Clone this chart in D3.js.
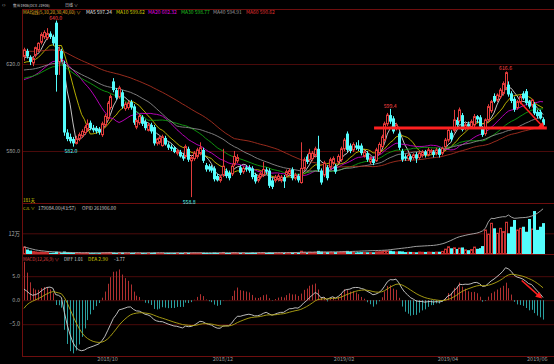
<!DOCTYPE html>
<html>
<head>
<meta charset="utf-8">
<script src="https://cdn.jsdelivr.net/npm/d3@7"></script>
<style>
  html, body { margin: 0; padding: 0; background: #000; }
  svg { display: block; font-family: "Noto Sans CJK SC", "Noto Sans", sans-serif; }
</style>
</head>
<body>
<svg id="chart" width="554" height="364"></svg>
<script>
// daily bars, [open, high, low, close]
const ohlc = [
  [623.5,627.5,621.5,626.5],[626,627,622.5,623.5],[623,624,619.5,621],[620.5,623.5,619,622.5],[624,628,623,627.5],
  [626.5,630,625.5,629.5],[630,634.5,629,633.5],[632.5,635.5,631.5,634.5],[632,636.5,631,634],[634,635,631.5,632.5],
  [632.5,633.5,628.5,629.5],[639,640,607.3,615],[621,628,615,626.5],[626,627,621,622.5],[620,621.5,587,588.5],
  [588.5,590,584.5,585.5],[586.5,588,583.5,584.5],[585.5,586.5,582,583.5],[583.5,587,583,585.5],[585.5,588.5,584.5,587.5],
  [587,590,586,589],[588.5,592,587.5,591],[590,594.5,589,592.5],[593,594,589.5,590.5],[590.5,592,588.5,589.5],
  [590.5,591.5,588,589],[590,591,587.5,588.5],[587.5,593.5,586.5,592.5],[592,597,591,596],[595,603,594,602],
  [600,606,599,605],[612,613.5,607,608],[608,609,603.5,604.5],[605,610,604,609],[607,608,599.5,600.5],
  [599.5,602.5,598.5,601.5],[600,603,599,602],[602.5,603.5,599,600],[600.5,601.5,592,593],[591,595,590,594],
  [593,597,592,596],[595.5,596.5,591.5,592.5],[593.5,594.5,589.5,590.5],[589.5,593,589,592],[592,593,588,589],
  [591,592,582.5,583.5],[583.5,586,582.5,585.5],[584,587,583,586],[582.5,587.5,582,586.5],[586,587,582.5,583],
  [583,584,580.5,581.5],[582,583,580,581],[581.5,582,579,579.5],[579,581,578,580],[579.5,580.5,577,577.5],
  [578,579,575.5,576.5],[577.5,583,576.5,582],[581,582,575,576],[575.5,578,558.8,577],[576.5,580,575.5,579],
  [577.5,581.5,576.5,580.5],[579,584,578,581.5],[580.5,581.5,574.5,575.5],[573.5,574.5,570.5,571.5],[573,574,570.5,571.5],
  [572.5,573.5,570,571],[572,573,566,567],[568.5,569.5,566,566.5],[566.5,569,565.5,568],[569,581,568,573],
  [571,572,567.5,568.5],[570,571,566.5,567.5],[569.5,574,568.5,573],[574,580,573,577.5],[575.5,578.5,574.5,577],
  [572.5,573.5,569,570],[570.5,573,569.5,572],[572.5,573.5,570.5,571.5],[572.5,573.5,570,571],[572,573,567,568],
  [569,570,565,566],[566.5,569,565.5,568],[568,570.5,567,569.5],[569,575,568,571.5],[571.5,572.5,569.5,570.5],
  [571,572,563,564],[566.5,567.5,562.5,563.5],[566.5,569,565.5,568],[567,569.5,566,568.5],[566.5,569,565.5,568],
  [568,569,563,566],[569,571.5,568,570.5],[569.5,572,568.5,571],[571.5,572.5,566.5,567.5],[567.5,570,566.5,569],
  [568.5,569.5,565.5,566.5],[565.5,584,565,572],[572,577,571,576],[577.5,578.5,574,575],[576,581,575,579],
  [576.5,580,575.5,579],[578,582,577,581],[581,587,570.5,571.5],[571,572,564.5,565.5],[569,575.5,568,574.5],
  [572.5,573.5,566.5,567.5],[572.5,577,571.5,576],[574.5,577.5,573.5,576.5],[573,574,569.5,570.5],[575,578.5,574,577.5],
  [576,582,575,581],[581,586,580,585],[588,589,579.5,580.5],[582.5,583.5,579,580],[580.5,584,579.5,583],
  [582.5,584,580.5,581.5],[582.5,585,580,581],[582.5,583.5,578,579],[577.5,580.5,577,579.5],[579,580,575,576],
  [575,577.5,574,576.5],[576.5,577.5,573.5,574.5],[575.5,581.5,575,580.5],[579,584,578.5,583],[582,587.5,581.5,586.5],
  [585,593.5,584.5,592.5],[592.5,597.5,591.5,596.5],[596.5,599.4,592.5,593.5],[595,596,588,589],[590.5,593,589.5,592],
  [588,589,580.5,581.5],[580,581,575,576],[577.5,578.5,575.5,576.5],[576.5,579,575.5,578],[577.5,578.5,575,576],
  [577,579,576,578.2],[578.5,579.5,574.5,576.5],[577,580,576,579],[578,580.5,577,579.5],[579.7,580.5,577,578.2],
  [578.2,581.5,577.5,580.5],[579.5,581,578.5,580.2],[579.7,580.5,577,578.2],[579,581.5,578,580.5],[580.8,581.5,577,578.2],
  [579,582,578,581.2],[582,586,581,585],[585,590.5,584,589.5],[588.4,589.5,584.5,585.4],[589.5,598.9,588.5,594.3],
  [594.3,595.5,591,592],[594,600,593,598.9],[596.5,597.5,589,589.7],[590.4,593,589.5,592],[592.4,593.5,590.5,591.2],
  [591.2,594.5,590.5,593.5],[592,597,591,595.8],[596,596.5,593,594.5],[595.5,596.5,590.5,591.2],[590.4,591.5,586.5,587.4],
  [588,595,587,594.3],[594.3,601.5,593.5,600.4],[598.5,603.5,597.5,602.7],[605.3,606.5,602,602.7],[603.4,606.5,602.5,605.7],
  [605,609,604,608],[606.5,612,605.5,611],[609,616.6,608,616],[610.5,612,605,606],[606.5,607.5,602,603],
  [604,605,598,599],[600,603.5,599,602.7],[602.5,606,601.5,605],[606.5,607.5,603.5,604.2],[607.5,608.5,601,602],
  [602.7,603.5,599.5,600.4],[601.1,604,600,603.4],[601.5,602.5,596.5,597.3],[598,599,595,596],[598,599,594.5,595],
  [594.6,595.5,591.5,592]
];

// volume, 万手
const volume = [
  4.0,2.6,2.0,1.4,1.2,1.0,1.1,0.9,0.8,0.7, 0.8,1.3,0.9,0.7,1.4,1.0,0.8,0.7,0.6,0.6,
  0.5,0.6,0.7,0.5,0.5,0.4,0.5,0.6,0.7,0.8, 0.9,0.8,0.6,0.7,0.8,0.5,0.5,0.6,0.7,0.5,
  0.5,0.6,0.5,0.5,0.6,0.8,0.5,0.5,0.6,0.5, 0.6,0.5,0.6,0.5,0.6,0.6,0.7,0.7,0.5,0.6,
  0.5,0.6,0.7,0.6,0.5,0.5,0.8,0.6,0.5,0.9, 0.6,0.6,0.7,0.8,0.6,0.7,0.6,0.6,0.6,0.8,
  0.7,0.6,0.6,0.8,0.6,0.9,0.8,0.6,0.6,0.6, 0.7,0.6,0.7,0.8,0.6,0.7,1.6,1.0,0.9,1.0,
  0.9,1.0,1.8,1.4,1.0,1.1,1.0,0.9,1.1,0.9, 1.2,1.4,1.8,1.2,1.0,0.9,1.0,1.1,0.9,1.0,
  0.9,1.0,1.2,1.3,1.4,1.8,1.7,1.9,1.6,1.2, 1.6,1.5,1.1,1.0,1.2,0.9,1.0,1.1,1.0,1.2,
  1.1,1.0,1.2,1.1,1.3,1.5,2.8,4.2,3.3,3.6, 2.9,3.4,3.8,2.4,2.2,2.6,4.0,3.0,3.4,4.6,
  13.9,11.5,17.8,14.9,12.0,14.9,13.0,18.4,12.0,15.8, 19.7,13.9,14.9,15.8,12.9,20.3,14.5,24.9,14.0,15.8,
  17.9
];

// open interest, 万手
const openInterest = [
  4.2,3.7,3.2,2.8,2.4,2.1,1.9,1.7,1.5,1.4, 1.3,1.2,1.1,1.0,1.0,0.9,0.9,0.8,0.8,0.8,
  0.7,0.7,0.7,0.7,0.7,0.7,0.7,0.7,0.7,0.7, 0.7,0.7,0.7,0.7,0.7,0.7,0.7,0.7,0.7,0.7,
  0.7,0.7,0.7,0.7,0.7,0.7,0.7,0.7,0.7,0.7, 0.7,0.7,0.7,0.7,0.7,0.7,0.7,0.7,0.7,0.7,
  0.7,0.7,0.7,0.7,0.7,0.7,0.7,0.7,0.7,0.7, 0.7,0.7,0.7,0.7,0.7,0.7,0.7,0.7,0.7,0.75,
  0.75,0.75,0.75,0.75,0.75,0.75,0.75,0.75,0.75,0.75, 0.8,0.8,0.8,0.85,0.85,0.9,0.95,1.0,1.0,1.05,
  1.05,1.1,1.1,1.15,1.15,1.2,1.2,1.25,1.25,1.3, 1.3,1.3,1.35,1.4,1.5,1.55,1.6,1.7,1.75,1.8,
  1.9,1.95,2.0,2.05,2.1,2.2,2.3,2.5,2.7,2.9, 3.1,3.3,3.5,3.7,3.9,4.2,4.4,4.5,4.6,4.7,
  4.8,4.9,5.0,5.2,5.5,5.9,6.4,7.1,7.8,8.6, 9.4,10.0,10.4,10.8,11.2,11.5,11.8,12.1,12.6,13.4,
  14.9,18.5,20.7,20.5,21.0,21.3,21.6,21.6,22.6,21.4, 20.7,20.8,21.0,21.1,21.2,21.5,22.0,22.6,23.6,24.8,
  26.19
];

// moving averages: periods, level before the first bar, and the values printed in the legend
const maPeriods = [5, 10, 20, 30, 40, 60];
const maStart = [622, 620, 612, 613, 617, 626];
const maLegend = [597.24, 599.62, 602.32, 598.77, 594.91, 590.62];

// MACD(12,26,9) state at the first bar and the legend values
const macdStart = { diff: 2.3, dea: -1.7 };
const macdLegend = { diff: 1.01, dea: 2.90, macd: -3.77 };

// volume panel legend values
const volLegend = { vol: '179084.00(43:57)', oi: '261906.00' };

// marked extremes (bar index)
const peakIdx = [11, 127, 167];
const troughIdx = [17, 58];

// hand-drawn annotations: [bar index, value]
const supportLine = [[121.4, 590.6], [181.3, 590.6]];
const priceArrow = [[172, 602.5], [180, 591]];
const macdArrow = [[172.6, 4.1], [179, 0.7]];

const xTickIdx = [29, 69, 111, 147, 178];
const xTickLabels = ['2018/10', '2018/12', '2019/02', '2019/04', '2019/06'];

// ---------------------------------------------------------------
const W = 554, H = 364, left = 22;
const UP = '#e23c3c', DOWN = '#54fcfc';
const GRID = '#4a0a0a', BORDER = '#6e0e0e';
const MA_COLORS = ['#d8d8d8', '#c8c000', '#c800c8', '#10a010', '#8a8a8a', '#a83020'];
const MA_TEXT = ['#e0e0e0', '#d8d000', '#e000e0', '#20c020', '#9a9a9a', '#e03030'];

const svg = d3.select('#chart');
svg.append('rect').attr('width', W).attr('height', H).attr('fill', '#000');

const closes = ohlc.map(d => d[3]);
const n = ohlc.length;

const x = d3.scaleBand().domain(d3.range(n)).range([22.5, 544.5]);
const step = x.step();
const cx = i => x(0) + step * (i + 0.5);      // works for fractional indexes too
const px = i => Math.round(x(i) + x.bandwidth() / 2);

const yPrice = d3.scaleLinear().domain([580, 620]).range([151, 64]);
const yVol = d3.scaleLinear().domain([0, 12]).range([254, 233.3]);
const yMacd = d3.scaleLinear().domain([-5, 5]).range([324.2, 276.2]);

// moving average, the missing bars before the window take the start level
function movingAverage(period, start) {
  return closes.map((c, i) => {
    const from = Math.max(0, i - period + 1);
    const sum = d3.sum(closes.slice(from, i + 1));
    return (sum + Math.max(0, period - 1 - i) * start) / period;
  });
}

// MACD
const macd = [];
{
  let e12 = closes[0], e26 = closes[0] - macdStart.diff, dea = macdStart.dea;
  closes.forEach((c, i) => {
    if (i > 0) {
      e12 += (c - e12) * 2 / 13;
      e26 += (c - e26) * 2 / 27;
    }
    const diff = e12 - e26;
    if (i > 0) dea += (diff - dea) * 2 / 10;
    macd.push({ diff, dea, hist: 2 * (diff - dea) });
  });
}

// clip regions
const defs = svg.append('defs');
defs.append('clipPath').attr('id', 'clipMain')
  .append('rect').attr('x', left + 1).attr('y', 10).attr('width', W - left).attr('height', 193);
defs.append('clipPath').attr('id', 'clipVol')
  .append('rect').attr('x', left + 1).attr('y', 204).attr('width', W - left).attr('height', 50);
defs.append('clipPath').attr('id', 'clipMacd')
  .append('rect').attr('x', left + 1).attr('y', 255).attr('width', W - left).attr('height', 101);
defs.append('marker').attr('id', 'arrow').attr('viewBox', '0 0 10 10')
  .attr('refX', 6).attr('refY', 5).attr('markerWidth', 4).attr('markerHeight', 4)
  .attr('orient', 'auto')
  .append('path').attr('d', 'M0,0L10,5L0,10Z').attr('fill', '#ff2020');

// grid lines + y labels through axes
function gridAxis(scale, values, fmt) {
  const g = svg.append('g').attr('transform', `translate(${left},0)`)
    .call(d3.axisLeft(scale).tickValues(values).tickFormat(fmt)
      .tickSize(-(W - left)).tickPadding(2));
  g.select('.domain').remove();
  g.selectAll('line').attr('stroke', GRID);
  g.selectAll('text').attr('fill', '#a8a8a8').attr('font-size', 5.5)
    .attr('font-family', '"Noto Sans CJK SC", sans-serif');
}
gridAxis(yPrice, [580, 620], d3.format('.1f'));
gridAxis(yVol, [12], d => d + '万');
gridAxis(yMacd, [-5, 0, 5], d3.format('.1f'));

// panel borders
const hBorders = [9.5, 203.5, 254.5, 356.5];
svg.append('g').selectAll('line').data(hBorders).join('line')
  .attr('x1', left).attr('x2', W).attr('y1', d => d).attr('y2', d => d)
  .attr('stroke', BORDER);
svg.append('line').attr('x1', left + 0.5).attr('x2', left + 0.5)
  .attr('y1', 9).attr('y2', 357).attr('stroke', BORDER);

// ----- price panel
const main = svg.append('g').attr('clip-path', 'url(#clipMain)');

const maSeries = maPeriods.map((p, k) => movingAverage(p, maStart[k]));
const lineIdx = d3.line().x((d, i) => cx(i));
main.selectAll('path.ma').data(maSeries).join('path')
  .attr('class', 'ma')
  .attr('d', s => lineIdx.y(v => yPrice(v))(s))
  .attr('fill', 'none')
  .attr('stroke', (d, k) => MA_COLORS[k])
  .attr('stroke-width', 0.9);

const candles = main.selectAll('g.candle').data(ohlc).join('g').attr('class', 'candle');
candles.append('line')
  .attr('x1', (d, i) => px(i) + 0.5).attr('x2', (d, i) => px(i) + 0.5)
  .attr('y1', d => yPrice(d[1])).attr('y2', d => yPrice(d[2]))
  .attr('stroke', d => d[3] >= d[0] ? UP : DOWN);
candles.append('rect')
  .attr('x', (d, i) => d[3] >= d[0] ? px(i) - 0.5 : px(i) - 1)
  .attr('y', d => yPrice(Math.max(d[0], d[3])))
  .attr('width', d => d[3] >= d[0] ? 2 : 3)
  .attr('height', d => Math.max(1, yPrice(Math.min(d[0], d[3])) - yPrice(Math.max(d[0], d[3]))))
  .attr('fill', d => d[3] >= d[0] ? '#000' : DOWN)
  .attr('stroke', d => d[3] >= d[0] ? UP : 'none')
  .attr('stroke-width', 1);

// extreme labels
svg.append('g').selectAll('text').data(peakIdx).join('text')
  .attr('x', i => cx(i)).attr('y', i => yPrice(ohlc[i][1]) - 1)
  .attr('text-anchor', 'middle').attr('font-size', 5.2).attr('fill', '#ff4040')
  .text(i => ohlc[i][1].toFixed(1));
svg.append('g').selectAll('text').data(troughIdx).join('text')
  .attr('x', i => cx(i) - 2).attr('y', i => yPrice(ohlc[i][2]) + 6.5)
  .attr('text-anchor', 'middle').attr('font-size', 5.2).attr('fill', DOWN)
  .text(i => ohlc[i][2].toFixed(1));

// annotations
const annLine = d3.line().x(d => cx(d[0]));
main.append('path').attr('d', annLine.y(d => yPrice(d[1]))(supportLine))
  .attr('stroke', '#ff2020').attr('stroke-width', 3).attr('fill', 'none');
main.append('path').attr('d', annLine.y(d => yPrice(d[1]))(priceArrow))
  .attr('stroke', '#ff2020').attr('stroke-width', 1.6).attr('fill', 'none')
  .attr('marker-end', 'url(#arrow)');

// ----- volume panel
const vol = svg.append('g').attr('clip-path', 'url(#clipVol)');
vol.selectAll('rect').data(volume).join('rect')
  .attr('x', (d, i) => ohlc[i][3] >= ohlc[i][0] ? px(i) - 0.5 : px(i) - 1)
  .attr('y', d => yVol(d))
  .attr('width', (d, i) => ohlc[i][3] >= ohlc[i][0] ? 2 : 3)
  .attr('height', d => yVol(0) - yVol(d))
  .attr('fill', (d, i) => ohlc[i][3] >= ohlc[i][0] ? '#000' : DOWN)
  .attr('stroke', (d, i) => ohlc[i][3] >= ohlc[i][0] ? '#c83232' : 'none');
vol.append('path').datum(openInterest)
  .attr('d', lineIdx.y(v => yVol(v)))
  .attr('fill', 'none').attr('stroke', '#b0b0b0').attr('stroke-width', 0.9);

// ----- MACD panel
const mg = svg.append('g').attr('clip-path', 'url(#clipMacd)');
mg.selectAll('line').data(macd).join('line')
  .attr('x1', (d, i) => px(i) + 0.5).attr('x2', (d, i) => px(i) + 0.5)
  .attr('y1', yMacd(0)).attr('y2', d => yMacd(d.hist))
  .attr('stroke', d => d.hist >= 0 ? '#b03030' : '#2aa0a0');
mg.append('path').datum(macd).attr('d', lineIdx.y(d => yMacd(d.diff)))
  .attr('fill', 'none').attr('stroke', '#d0d0d0').attr('stroke-width', 0.9);
mg.append('path').datum(macd).attr('d', lineIdx.y(d => yMacd(d.dea)))
  .attr('fill', 'none').attr('stroke', '#b4a814').attr('stroke-width', 0.9);
mg.append('path').attr('d', annLine.y(d => yMacd(d[1]))(macdArrow))
  .attr('stroke', '#ff2020').attr('stroke-width', 1.6).attr('fill', 'none')
  .attr('marker-end', 'url(#arrow)');

// ----- x axis
const xa = svg.append('g').attr('transform', 'translate(0,356)')
  .call(d3.axisBottom(x).tickValues(xTickIdx)
    .tickFormat(i => xTickLabels[xTickIdx.indexOf(i)]).tickSize(0).tickPadding(1.5));
xa.select('.domain').remove();
xa.selectAll('text').attr('fill', '#9a9a9a').attr('font-size', 5.5)
  .attr('font-family', '"Noto Sans CJK SC", sans-serif');

// ----- header texts: font shrunk until each fits the width it takes in the picture
function label(xp, yp, txt, color, width, size = 5.5) {
  const t = svg.append('text').attr('x', xp).attr('y', yp).attr('fill', color)
    .attr('font-size', size).text(txt);
  const natural = t.node().getComputedTextLength();
  if (width && natural > width) t.attr('font-size', (size * width / natural).toFixed(2));
}
label(2, 7, '‹›', '#9a9a9a', 5, 6);
label(13, 7, '焦炭1906(DCE J1906)', '#d0d0d0', 37);
label(65, 7, '日线 ∨', '#d0d0d0', 13);

label(23, 13.5, 'MA均线(5,10,20,30,40,60) ∨', '#e0b020', 58);
const legendX = [86, 116, 148, 181, 213, 246];
maPeriods.forEach((p, k) => {
  label(legendX[k], 13.5, `MA${p} ${maLegend[k].toFixed(2)}`, MA_TEXT[k], k === 0 ? 26 : 29);
});

label(23, 202, n + '天', '#d8d000', 12);
label(23, 209.5, 'CJL ∨', '#d8d000', 12);
label(38, 209.5, volLegend.vol, '#d0d0d0', 38);
label(82, 209.5, 'OPID ' + volLegend.oi, '#d0d0d0', 34);

label(23, 261, 'MACD(12,26,9) ∨', '#e04040', 36);
label(64, 261, `DIFF ${macdLegend.diff.toFixed(2)}`, '#d8d8d8', 19);
label(88, 261, `DEA ${macdLegend.dea.toFixed(2)}`, '#d8d000', 20);
label(114, 261, macdLegend.macd.toFixed(2), '#d8d8d8', 11);
</script>
</body>
</html>
